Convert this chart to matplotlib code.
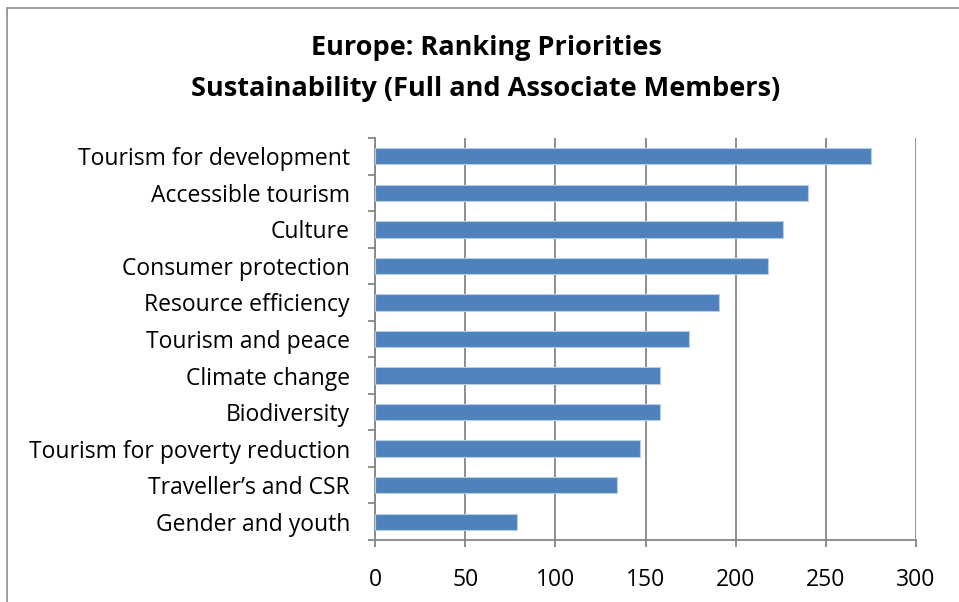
import matplotlib
matplotlib.use("Agg")
import matplotlib.pyplot as plt
from matplotlib.patches import Rectangle

categories = [
    "Tourism for development",
    "Accessible tourism",
    "Culture",
    "Consumer protection",
    "Resource efficiency",
    "Tourism and peace",
    "Climate change",
    "Biodiversity",
    "Tourism for poverty reduction",
    "Traveller\u2019s and CSR",
    "Gender and youth",
]
values = [275, 240, 226, 218, 191, 174, 158, 158, 147, 134, 79]
x_ticks = [0, 50, 100, 150, 200, 250, 300]

plt.rcParams["font.family"] = ["Open Sans", "DejaVu Sans"]

W, H = 959, 602
fig = plt.figure(figsize=(W / 100, H / 100), dpi=100)
fig.patch.set_facecolor("white")

# chart frame
fig.add_artist(Rectangle((7 / W, -0.05), 1.2, (H - 8) / H + 0.05,
                         transform=fig.transFigure, fill=False,
                         edgecolor="#8C8C8C", linewidth=1.2))

left, right, top, bottom = 375, 916, 138, 540
ax = fig.add_axes([left / W, 1 - bottom / H, (right - left) / W, (bottom - top) / H])

n = len(categories)
ypos = list(range(n))[::-1]
ax.barh(ypos, values, height=0.45, color="#4F81BD", edgecolor="#B9CDE5",
        linewidth=0.8, zorder=3)

ax.set_xlim(0, 300)
ax.set_ylim(-0.5, n - 0.5)
ax.set_xticks(x_ticks)
ax.set_xticklabels([str(t) for t in x_ticks])
ax.xaxis.grid(True, color="#868686", linewidth=1.3, zorder=0)
ax.set_axisbelow(True)

# category labels at bar centres, ticks at category boundaries
ax.set_yticks(ypos)
ax.set_yticklabels(categories)
ax.set_yticks([i - 0.5 for i in range(n + 1)], minor=True)
ax.tick_params(axis="y", which="major", length=0, pad=18, labelsize=16.5)
ax.tick_params(axis="y", which="minor", length=5, width=1.3, color="#868686",
               direction="out")
ax.tick_params(axis="x", length=5, width=1.3, color="#868686", pad=15,
               labelsize=16.5, direction="out")

for side in ("top", "right"):
    ax.spines[side].set_visible(False)
for side in ("left", "bottom"):
    ax.spines[side].set_color("#868686")
    ax.spines[side].set_linewidth(1.3)

fig.text(486 / W, 1 - 48 / H, "Europe: Ranking Priorities", ha="center",
         va="center", fontsize=19.5, fontweight="bold")
fig.text(486 / W, 1 - 89 / H, "Sustainability (Full and Associate Members)",
         ha="center", va="center", fontsize=19.5, fontweight="bold")

fig.savefig("out.png", dpi=100)
